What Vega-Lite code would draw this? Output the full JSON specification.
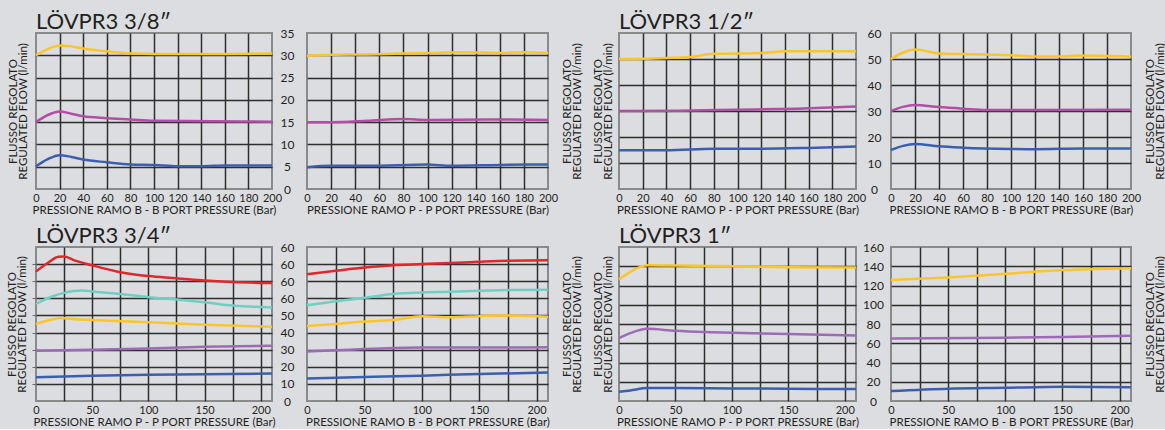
{
  "$schema": "https://vega.github.io/schema/vega-lite/v6.json",
  "background": "#dcdde0",
  "padding": {"left": 5, "top": 10, "right": 3, "bottom": 0},
  "columns": 5,
  "align": "each",
  "bounds": "flush",
  "spacing": {"row": 58, "column": 35},
  "datasets": {
    "d": [
      {"p":"A1","s":"y","x":0,"y":30},{"p":"A1","s":"y","x":10,"y":31.4},{"p":"A1","s":"y","x":20,"y":32.2},{"p":"A1","s":"y","x":30,"y":32},{"p":"A1","s":"y","x":40,"y":31.5},{"p":"A1","s":"y","x":60,"y":30.9},{"p":"A1","s":"y","x":80,"y":30.4},{"p":"A1","s":"y","x":100,"y":30.3},{"p":"A1","s":"y","x":120,"y":30.3},{"p":"A1","s":"y","x":150,"y":30.3},{"p":"A1","s":"y","x":200,"y":30.4},
      {"p":"A1","s":"m","x":0,"y":15},{"p":"A1","s":"m","x":10,"y":16.6},{"p":"A1","s":"m","x":20,"y":17.4},{"p":"A1","s":"m","x":30,"y":16.9},{"p":"A1","s":"m","x":40,"y":16.3},{"p":"A1","s":"m","x":60,"y":15.9},{"p":"A1","s":"m","x":80,"y":15.6},{"p":"A1","s":"m","x":100,"y":15.3},{"p":"A1","s":"m","x":150,"y":15.2},{"p":"A1","s":"m","x":200,"y":15.1},
      {"p":"A1","s":"b","x":0,"y":5.1},{"p":"A1","s":"b","x":10,"y":6.7},{"p":"A1","s":"b","x":20,"y":7.6},{"p":"A1","s":"b","x":30,"y":7.2},{"p":"A1","s":"b","x":40,"y":6.6},{"p":"A1","s":"b","x":60,"y":6.0},{"p":"A1","s":"b","x":80,"y":5.5},{"p":"A1","s":"b","x":100,"y":5.4},{"p":"A1","s":"b","x":120,"y":5.1},{"p":"A1","s":"b","x":140,"y":5.1},{"p":"A1","s":"b","x":160,"y":5.3},{"p":"A1","s":"b","x":200,"y":5.3},
      {"p":"A2","s":"y","x":0,"y":29.9},{"p":"A2","s":"y","x":20,"y":30.1},{"p":"A2","s":"y","x":50,"y":30.2},{"p":"A2","s":"y","x":80,"y":30.4},{"p":"A2","s":"y","x":100,"y":30.5},{"p":"A2","s":"y","x":130,"y":30.7},{"p":"A2","s":"y","x":160,"y":30.5},{"p":"A2","s":"y","x":180,"y":30.7},{"p":"A2","s":"y","x":200,"y":30.5},
      {"p":"A2","s":"m","x":0,"y":15},{"p":"A2","s":"m","x":20,"y":15},{"p":"A2","s":"m","x":50,"y":15.3},{"p":"A2","s":"m","x":80,"y":15.7},{"p":"A2","s":"m","x":100,"y":15.5},{"p":"A2","s":"m","x":150,"y":15.6},{"p":"A2","s":"m","x":200,"y":15.5},
      {"p":"A2","s":"b","x":0,"y":4.9},{"p":"A2","s":"b","x":20,"y":5.2},{"p":"A2","s":"b","x":50,"y":5.2},{"p":"A2","s":"b","x":100,"y":5.5},{"p":"A2","s":"b","x":120,"y":5.2},{"p":"A2","s":"b","x":160,"y":5.4},{"p":"A2","s":"b","x":200,"y":5.5},
      {"p":"B1","s":"y","x":0,"y":50},{"p":"B1","s":"y","x":20,"y":50.1},{"p":"B1","s":"y","x":40,"y":50.4},{"p":"B1","s":"y","x":60,"y":50.8},{"p":"B1","s":"y","x":80,"y":52},{"p":"B1","s":"y","x":100,"y":52.1},{"p":"B1","s":"y","x":120,"y":52.3},{"p":"B1","s":"y","x":140,"y":53},{"p":"B1","s":"y","x":160,"y":53},{"p":"B1","s":"y","x":200,"y":53},
      {"p":"B1","s":"m","x":0,"y":30},{"p":"B1","s":"m","x":50,"y":30.1},{"p":"B1","s":"m","x":100,"y":30.5},{"p":"B1","s":"m","x":150,"y":30.9},{"p":"B1","s":"m","x":200,"y":31.7},
      {"p":"B1","s":"b","x":0,"y":14.9},{"p":"B1","s":"b","x":40,"y":14.9},{"p":"B1","s":"b","x":80,"y":15.5},{"p":"B1","s":"b","x":120,"y":15.5},{"p":"B1","s":"b","x":160,"y":15.8},{"p":"B1","s":"b","x":200,"y":16.3},
      {"p":"B2","s":"y","x":0,"y":50},{"p":"B2","s":"y","x":10,"y":52.5},{"p":"B2","s":"y","x":20,"y":53.7},{"p":"B2","s":"y","x":30,"y":53},{"p":"B2","s":"y","x":40,"y":52.1},{"p":"B2","s":"y","x":60,"y":51.9},{"p":"B2","s":"y","x":80,"y":51.7},{"p":"B2","s":"y","x":100,"y":51.4},{"p":"B2","s":"y","x":120,"y":51},{"p":"B2","s":"y","x":140,"y":51},{"p":"B2","s":"y","x":160,"y":51.3},{"p":"B2","s":"y","x":200,"y":50.9},
      {"p":"B2","s":"m","x":0,"y":30},{"p":"B2","s":"m","x":10,"y":31.6},{"p":"B2","s":"m","x":20,"y":32.3},{"p":"B2","s":"m","x":40,"y":31.5},{"p":"B2","s":"m","x":60,"y":30.9},{"p":"B2","s":"m","x":80,"y":30.4},{"p":"B2","s":"m","x":120,"y":30.4},{"p":"B2","s":"m","x":200,"y":30.5},
      {"p":"B2","s":"b","x":0,"y":15},{"p":"B2","s":"b","x":10,"y":16.6},{"p":"B2","s":"b","x":20,"y":17.3},{"p":"B2","s":"b","x":40,"y":16.4},{"p":"B2","s":"b","x":60,"y":15.9},{"p":"B2","s":"b","x":100,"y":15.4},{"p":"B2","s":"b","x":120,"y":15.3},{"p":"B2","s":"b","x":160,"y":15.6},{"p":"B2","s":"b","x":200,"y":15.6},
      {"p":"C1","s":"r","x":0,"y":75.7},{"p":"C1","s":"r","x":10,"y":80.5},{"p":"C1","s":"r","x":20,"y":84.3},{"p":"C1","s":"r","x":25,"y":84.5},{"p":"C1","s":"r","x":35,"y":82},{"p":"C1","s":"r","x":50,"y":79.3},{"p":"C1","s":"r","x":75,"y":75.3},{"p":"C1","s":"r","x":100,"y":73},{"p":"C1","s":"r","x":125,"y":71.8},{"p":"C1","s":"r","x":150,"y":70.4},{"p":"C1","s":"r","x":175,"y":69.5},{"p":"C1","s":"r","x":210,"y":68.9},
      {"p":"C1","s":"c","x":0,"y":56.8},{"p":"C1","s":"c","x":12,"y":60.5},{"p":"C1","s":"c","x":25,"y":63.2},{"p":"C1","s":"c","x":40,"y":64.6},{"p":"C1","s":"c","x":50,"y":64},{"p":"C1","s":"c","x":75,"y":62.6},{"p":"C1","s":"c","x":100,"y":60.7},{"p":"C1","s":"c","x":125,"y":59.3},{"p":"C1","s":"c","x":150,"y":57.7},{"p":"C1","s":"c","x":175,"y":55.8},{"p":"C1","s":"c","x":210,"y":54.6},
      {"p":"C1","s":"y","x":0,"y":45},{"p":"C1","s":"y","x":12,"y":47.3},{"p":"C1","s":"y","x":22,"y":48.5},{"p":"C1","s":"y","x":35,"y":47.8},{"p":"C1","s":"y","x":50,"y":47.4},{"p":"C1","s":"y","x":100,"y":46},{"p":"C1","s":"y","x":150,"y":44.6},{"p":"C1","s":"y","x":210,"y":43.4},
      {"p":"C1","s":"p","x":0,"y":29.4},{"p":"C1","s":"p","x":50,"y":29.9},{"p":"C1","s":"p","x":100,"y":30.7},{"p":"C1","s":"p","x":150,"y":31.7},{"p":"C1","s":"p","x":210,"y":32.3},
      {"p":"C1","s":"b","x":0,"y":13.9},{"p":"C1","s":"b","x":50,"y":14.7},{"p":"C1","s":"b","x":100,"y":15.3},{"p":"C1","s":"b","x":150,"y":15.7},{"p":"C1","s":"b","x":210,"y":16},
      {"p":"C2","s":"r","x":0,"y":74.1},{"p":"C2","s":"r","x":25,"y":76.1},{"p":"C2","s":"r","x":50,"y":78},{"p":"C2","s":"r","x":75,"y":79.4},{"p":"C2","s":"r","x":100,"y":80},{"p":"C2","s":"r","x":125,"y":80.6},{"p":"C2","s":"r","x":150,"y":81.4},{"p":"C2","s":"r","x":175,"y":82},{"p":"C2","s":"r","x":210,"y":82.2},
      {"p":"C2","s":"c","x":0,"y":55.9},{"p":"C2","s":"c","x":25,"y":58.3},{"p":"C2","s":"c","x":50,"y":60.3},{"p":"C2","s":"c","x":75,"y":62.6},{"p":"C2","s":"c","x":100,"y":63.4},{"p":"C2","s":"c","x":125,"y":63.8},{"p":"C2","s":"c","x":150,"y":64.4},{"p":"C2","s":"c","x":175,"y":64.8},{"p":"C2","s":"c","x":210,"y":65},
      {"p":"C2","s":"y","x":0,"y":43.9},{"p":"C2","s":"y","x":25,"y":45},{"p":"C2","s":"y","x":50,"y":46.4},{"p":"C2","s":"y","x":75,"y":47.4},{"p":"C2","s":"y","x":100,"y":49.6},{"p":"C2","s":"y","x":125,"y":49},{"p":"C2","s":"y","x":150,"y":49.6},{"p":"C2","s":"y","x":165,"y":50},{"p":"C2","s":"y","x":210,"y":49.2},
      {"p":"C2","s":"p","x":0,"y":29},{"p":"C2","s":"p","x":25,"y":29.6},{"p":"C2","s":"p","x":50,"y":30.4},{"p":"C2","s":"p","x":75,"y":31},{"p":"C2","s":"p","x":100,"y":31.2},{"p":"C2","s":"p","x":150,"y":31.2},{"p":"C2","s":"p","x":210,"y":31.4},
      {"p":"C2","s":"b","x":0,"y":13.2},{"p":"C2","s":"b","x":50,"y":14},{"p":"C2","s":"b","x":100,"y":14.8},{"p":"C2","s":"b","x":150,"y":15.8},{"p":"C2","s":"b","x":210,"y":16.6},
      {"p":"D1","s":"y","x":0,"y":126.3},{"p":"D1","s":"y","x":10,"y":134.2},{"p":"D1","s":"y","x":25,"y":141},{"p":"D1","s":"y","x":50,"y":140.7},{"p":"D1","s":"y","x":100,"y":140},{"p":"D1","s":"y","x":150,"y":139},{"p":"D1","s":"y","x":210,"y":138.7},
      {"p":"D1","s":"p","x":0,"y":65.4},{"p":"D1","s":"p","x":10,"y":70.5},{"p":"D1","s":"p","x":25,"y":75},{"p":"D1","s":"p","x":50,"y":72.9},{"p":"D1","s":"p","x":75,"y":71.6},{"p":"D1","s":"p","x":100,"y":70.9},{"p":"D1","s":"p","x":150,"y":69.5},{"p":"D1","s":"p","x":210,"y":68.1},
      {"p":"D1","s":"b","x":0,"y":9.6},{"p":"D1","s":"b","x":10,"y":11},{"p":"D1","s":"b","x":25,"y":13.4},{"p":"D1","s":"b","x":50,"y":13.4},{"p":"D1","s":"b","x":100,"y":13.1},{"p":"D1","s":"b","x":150,"y":12.7},{"p":"D1","s":"b","x":210,"y":12.4},
      {"p":"D2","s":"y","x":0,"y":125.7},{"p":"D2","s":"y","x":50,"y":128.4},{"p":"D2","s":"y","x":100,"y":132.2},{"p":"D2","s":"y","x":150,"y":136},{"p":"D2","s":"y","x":210,"y":138},
      {"p":"D2","s":"p","x":0,"y":65},{"p":"D2","s":"p","x":100,"y":65.8},{"p":"D2","s":"p","x":150,"y":66.4},{"p":"D2","s":"p","x":210,"y":67.8},
      {"p":"D2","s":"b","x":0,"y":10.3},{"p":"D2","s":"b","x":50,"y":12.7},{"p":"D2","s":"b","x":100,"y":13.7},{"p":"D2","s":"b","x":150,"y":14.7},{"p":"D2","s":"b","x":210,"y":14.4}
    ]
  },
  "concat": [
    {
      "data": {"name": "d"},
      "width": 236, "height": 156,
      "title": {"text": "LÖVPR3 3/8″"},
      "transform": [{"filter": "datum.p == 'A1'"}],
      "layer": [
        {"mark": {"type": "line", "interpolate": "monotone", "strokeWidth": 2.5},
         "encoding": {
           "x": {"field": "x", "type": "quantitative", "scale": {"domain": [0, 200], "nice": false},
                 "axis": {"values": [0,20,40,60,80,100,120,140,160,180,200], "title": "PRESSIONE RAMO B - B PORT PRESSURE (Bar)",
                          "gridOpacity": {"condition": {"test": "datum.value == 0 || datum.value == 200", "value": 0}, "value": 1}}},
           "y": {"field": "y", "type": "quantitative", "scale": {"domain": [0, 35], "nice": false},
                 "axis": {"orient": "left", "values": [5,10,15,20,25,30], "labels": false, "title": ["FLUSSO REGOLATO", "REGULATED FLOW (l/min)"], "titlePadding": 8}},
           "color": {"field": "s", "type": "nominal", "scale": {"domain": ["y","m","b","r","c","p"], "range": ["#fdc52a","#b24ea6","#3b5fae","#e2262b","#6fcfc3","#9d6bb6"]}, "legend": null}}},
        {"mark": {"type": "rule", "opacity": 0},
         "encoding": {
           "y": {"field": "y", "type": "quantitative",
                 "axis": {"orient": "right", "values": [0,5,10,15,20,25,30,35], "grid": false, "title": null, "labelAlign": "center", "labelPadding": 15, "labelFontSize": 12}}}}
      ],
      "resolve": {"axis": {"y": "independent"}}
    },
    {
      "data": {"name": "d"},
      "width": 241, "height": 156,
      "transform": [{"filter": "datum.p == 'A2'"}],
      "mark": {"type": "line", "interpolate": "monotone", "strokeWidth": 2.5},
      "encoding": {
        "x": {"field": "x", "type": "quantitative", "scale": {"domain": [0, 200], "nice": false},
              "axis": {"values": [0,20,40,60,80,100,120,140,160,180,200], "title": "PRESSIONE RAMO P - P PORT PRESSURE (Bar)",
                       "gridOpacity": {"condition": {"test": "datum.value == 0 || datum.value == 200", "value": 0}, "value": 1}}},
        "y": {"field": "y", "type": "quantitative", "scale": {"domain": [0, 35], "nice": false},
              "axis": {"orient": "right", "values": [5,10,15,20,25,30], "labels": false, "title": ["FLUSSO REGOLATO", "REGULATED FLOW (l/min)"], "titleAngle": 270, "titleBaseline": "top", "titlePadding": 3}},
        "color": {"field": "s", "type": "nominal", "scale": {"domain": ["y","m","b","r","c","p"], "range": ["#fdc52a","#b24ea6","#3b5fae","#e2262b","#6fcfc3","#9d6bb6"]}, "legend": null}
      }
    },
    {
      "data": {"values": [{"a": 0}]},
      "width": 1, "height": 156,
      "view": {"stroke": null},
      "mark": {"type": "point", "opacity": 0},
      "encoding": {}
    },
    {
      "data": {"name": "d"},
      "width": 237, "height": 156,
      "title": {"text": "LÖVPR3 1/2″"},
      "transform": [{"filter": "datum.p == 'B1'"}],
      "layer": [
        {"mark": {"type": "line", "interpolate": "monotone", "strokeWidth": 2.5},
         "encoding": {
           "x": {"field": "x", "type": "quantitative", "scale": {"domain": [0, 200], "nice": false},
                 "axis": {"values": [0,20,40,60,80,100,120,140,160,180,200], "title": "PRESSIONE RAMO P - P PORT PRESSURE (Bar)",
                          "gridOpacity": {"condition": {"test": "datum.value == 0 || datum.value == 200", "value": 0}, "value": 1}}},
           "y": {"field": "y", "type": "quantitative", "scale": {"domain": [0, 60], "nice": false},
                 "axis": {"orient": "left", "values": [10,20,30,40,50], "labels": false, "title": ["FLUSSO REGOLATO", "REGULATED FLOW (l/min)"], "titlePadding": 6}},
           "color": {"field": "s", "type": "nominal", "scale": {"domain": ["y","m","b","r","c","p"], "range": ["#fdc52a","#b24ea6","#3b5fae","#e2262b","#6fcfc3","#9d6bb6"]}, "legend": null}}},
        {"mark": {"type": "rule", "opacity": 0},
         "encoding": {
           "y": {"field": "y", "type": "quantitative",
                 "axis": {"orient": "right", "values": [0,10,20,30,40,50,60], "grid": false, "title": null, "labelAlign": "center", "labelPadding": 18, "labelFontSize": 12}}}}
      ],
      "resolve": {"axis": {"y": "independent"}}
    },
    {
      "data": {"name": "d"},
      "width": 240, "height": 156,
      "transform": [{"filter": "datum.p == 'B2'"}],
      "mark": {"type": "line", "interpolate": "monotone", "strokeWidth": 2.5},
      "encoding": {
        "x": {"field": "x", "type": "quantitative", "scale": {"domain": [0, 200], "nice": false},
              "axis": {"values": [0,20,40,60,80,100,120,140,160,180,200], "title": "PRESSIONE RAMO B - B PORT PRESSURE (Bar)",
                       "gridOpacity": {"condition": {"test": "datum.value == 0 || datum.value == 200", "value": 0}, "value": 1}}},
        "y": {"field": "y", "type": "quantitative", "scale": {"domain": [0, 60], "nice": false},
              "axis": {"orient": "right", "values": [10,20,30,40,50], "labels": false, "title": ["FLUSSO REGOLATO", "REGULATED FLOW (l/min)"], "titleAngle": 270, "titleBaseline": "top", "titlePadding": 3}},
        "color": {"field": "s", "type": "nominal", "scale": {"domain": ["y","m","b","r","c","p"], "range": ["#fdc52a","#b24ea6","#3b5fae","#e2262b","#6fcfc3","#9d6bb6"]}, "legend": null}
      }
    },
    {
      "data": {"name": "d"},
      "width": 236, "height": 154,
      "title": {"text": "LÖVPR3 3/4″"},
      "transform": [{"filter": "datum.p == 'C1'"}],
      "layer": [
        {"mark": {"type": "line", "interpolate": "monotone", "strokeWidth": 2.5},
         "encoding": {
           "x": {"field": "x", "type": "quantitative", "scale": {"domain": [0, 210], "nice": false},
                 "axis": {"values": [0,25,50,75,100,125,150,175,200], "labelExpr": "datum.value % 50 == 0 ? datum.label : ''", "title": "PRESSIONE RAMO P - P PORT PRESSURE (Bar)",
                          "gridOpacity": {"condition": {"test": "datum.value == 0", "value": 0}, "value": 1}}},
           "y": {"field": "y", "type": "quantitative", "scale": {"domain": [0, 90], "nice": false},
                 "axis": {"orient": "left", "values": [10,20,30,40,50,60,70,80], "labels": false, "ticks": true, "tickSize": 4, "tickColor": "#6a6a6a", "tickWidth": 1, "title": ["FLUSSO REGOLATO", "REGULATED FLOW (l/min)"], "titlePadding": 4}},
           "color": {"field": "s", "type": "nominal", "scale": {"domain": ["y","m","b","r","c","p"], "range": ["#fdc52a","#b24ea6","#3b5fae","#e2262b","#6fcfc3","#9d6bb6"]}, "legend": null}}},
        {"mark": {"type": "rule", "opacity": 0},
         "encoding": {
           "y": {"field": "y", "type": "quantitative",
                 "axis": {"orient": "right", "values": [0,10,20,30,40,50,60,70,80,90], "labelExpr": "datum.value >= 60 ? '60' : datum.label", "grid": false, "title": null, "labelAlign": "center", "labelPadding": 15, "labelFontSize": 12}}}}
      ],
      "resolve": {"axis": {"y": "independent"}}
    },
    {
      "data": {"name": "d"},
      "width": 241, "height": 154,
      "transform": [{"filter": "datum.p == 'C2'"}],
      "mark": {"type": "line", "interpolate": "monotone", "strokeWidth": 2.5},
      "encoding": {
        "x": {"field": "x", "type": "quantitative", "scale": {"domain": [0, 210], "nice": false},
              "axis": {"values": [0,25,50,75,100,125,150,175,200], "labelExpr": "datum.value % 50 == 0 ? datum.label : ''", "title": "PRESSIONE RAMO B - B PORT PRESSURE (Bar)",
                       "gridOpacity": {"condition": {"test": "datum.value == 0", "value": 0}, "value": 1}}},
        "y": {"field": "y", "type": "quantitative", "scale": {"domain": [0, 90], "nice": false},
              "axis": {"orient": "right", "values": [10,20,30,40,50,60,70,80], "labels": false, "title": ["FLUSSO REGOLATO", "REGULATED FLOW (l/min)"], "titleAngle": 270, "titleBaseline": "top", "titlePadding": 3}},
        "color": {"field": "s", "type": "nominal", "scale": {"domain": ["y","m","b","r","c","p"], "range": ["#fdc52a","#b24ea6","#3b5fae","#e2262b","#6fcfc3","#9d6bb6"]}, "legend": null}
      }
    },
    {
      "data": {"values": [{"a": 0}]},
      "width": 1, "height": 154,
      "view": {"stroke": null},
      "mark": {"type": "point", "opacity": 0},
      "encoding": {}
    },
    {
      "data": {"name": "d"},
      "width": 237, "height": 154,
      "title": {"text": "LÖVPR3 1″"},
      "transform": [{"filter": "datum.p == 'D1'"}],
      "layer": [
        {"mark": {"type": "line", "interpolate": "monotone", "strokeWidth": 2.5},
         "encoding": {
           "x": {"field": "x", "type": "quantitative", "scale": {"domain": [0, 210], "nice": false},
                 "axis": {"values": [0,25,50,75,100,125,150,175,200], "labelExpr": "datum.value % 50 == 0 ? datum.label : ''", "title": "PRESSIONE RAMO P - P PORT PRESSURE (Bar)",
                          "gridOpacity": {"condition": {"test": "datum.value == 0", "value": 0}, "value": 1}}},
           "y": {"field": "y", "type": "quantitative", "scale": {"domain": [0, 160], "nice": false},
                 "axis": {"orient": "left", "values": [20,40,60,80,100,120,140], "labels": false, "title": ["FLUSSO REGOLATO", "REGULATED FLOW (l/min)"], "titlePadding": 6}},
           "color": {"field": "s", "type": "nominal", "scale": {"domain": ["y","m","b","r","c","p"], "range": ["#fdc52a","#b24ea6","#3b5fae","#e2262b","#6fcfc3","#9d6bb6"]}, "legend": null}}},
        {"mark": {"type": "rule", "opacity": 0},
         "encoding": {
           "y": {"field": "y", "type": "quantitative",
                 "axis": {"orient": "right", "values": [0,20,40,60,80,100,120,140,160], "grid": false, "title": null, "labelAlign": "center", "labelPadding": 17, "labelFontSize": 12}}}}
      ],
      "resolve": {"axis": {"y": "independent"}}
    },
    {
      "data": {"name": "d"},
      "width": 240, "height": 154,
      "transform": [{"filter": "datum.p == 'D2'"}],
      "mark": {"type": "line", "interpolate": "monotone", "strokeWidth": 2.5},
      "encoding": {
        "x": {"field": "x", "type": "quantitative", "scale": {"domain": [0, 210], "nice": false},
              "axis": {"values": [0,25,50,75,100,125,150,175,200], "labelExpr": "datum.value % 50 == 0 ? datum.label : ''", "title": "PRESSIONE RAMO B - B PORT PRESSURE (Bar)",
                       "gridOpacity": {"condition": {"test": "datum.value == 0", "value": 0}, "value": 1}}},
        "y": {"field": "y", "type": "quantitative", "scale": {"domain": [0, 160], "nice": false},
              "axis": {"orient": "right", "values": [20,40,60,80,100,120,140], "labels": false, "title": ["FLUSSO REGOLATO", "REGULATED FLOW (l/min)"], "titleAngle": 270, "titleBaseline": "top", "titlePadding": 3}},
        "color": {"field": "s", "type": "nominal", "scale": {"domain": ["y","m","b","r","c","p"], "range": ["#fdc52a","#b24ea6","#3b5fae","#e2262b","#6fcfc3","#9d6bb6"]}, "legend": null}
      }
    }
  ],
  "config": {
    "font": "Lato",
    "view": {"stroke": "#8a8a8a", "strokeWidth": 2, "fill": null},
    "axis": {
      "domain": false, "ticks": false, "tickSize": 0,
      "gridColor": "#2e2e2e", "gridWidth": 1.5, "gridOpacity": 1,
      "labelColor": "#231f20", "labelFontSize": 11, "labelPadding": 3, "labelFont": "Lato", "labelOverlap": false, "labelFlush": false, "labelBound": false,
      "titleColor": "#231f20", "titleFontSize": 11.5, "titleFontWeight": "normal", "titleFont": "Lato", "titleLineHeight": 10, "titlePadding": 1
    },
    "title": {"fontSize": 22, "fontWeight": "normal", "anchor": "start", "frame": "group", "color": "#231f20", "font": "Lato", "offset": 1, "dy": 8}
  }
}
